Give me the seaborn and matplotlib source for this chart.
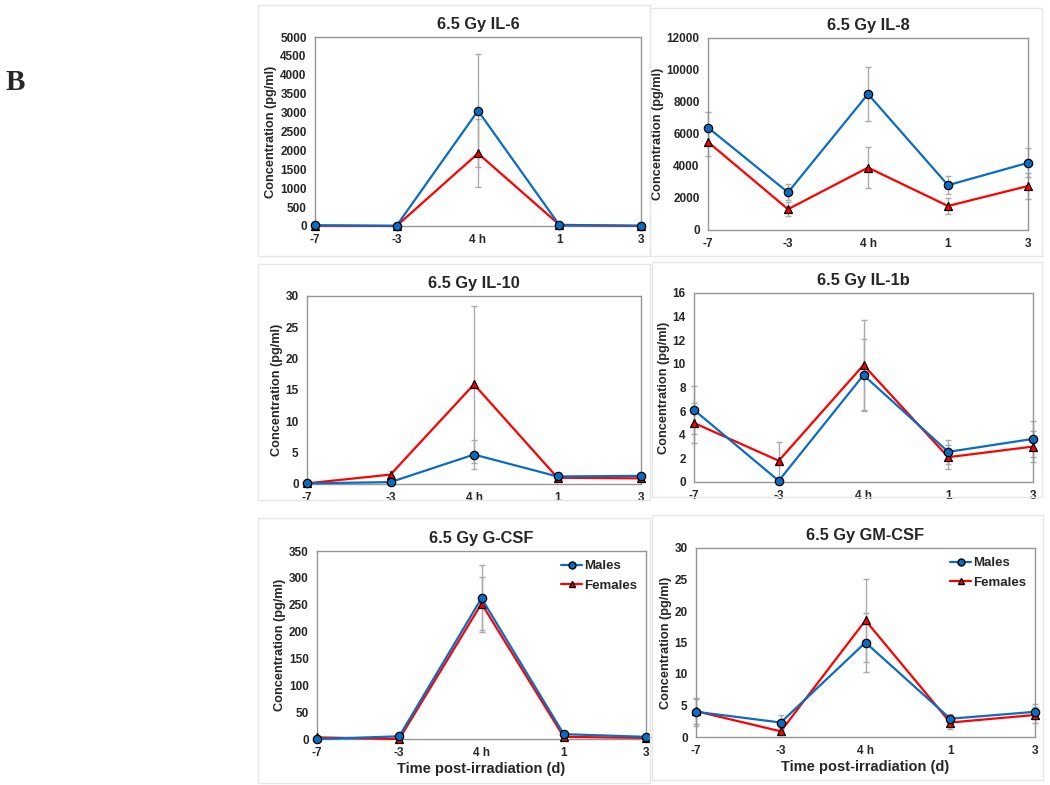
import pandas as pd
import numpy as np
import matplotlib
matplotlib.use('Agg')
import matplotlib.pyplot as plt
from matplotlib.lines import Line2D
from matplotlib.patches import Rectangle
import seaborn as sns

sns.set_style("white")
plt.rcParams['font.family'] = ['Liberation Sans', 'DejaVu Sans']
plt.rcParams['font.weight'] = 'bold'

# ---- data ----
time_labels = ['-7', '-3', '4 h', '1', '3']

il6_m = [20, 5, 3050, 20, 5]
il6_f = [10, 0, 1920, 30, 5]
il6_m_sd = [30, 10, 1500, 30, 10]
il6_f_sd = [20, 5, 900, 40, 10]

il8_m = [6400, 2350, 8500, 2800, 4200]
il8_f = [5500, 1300, 3900, 1500, 2750]
il8_m_sd = [1000, 500, 1700, 550, 900]
il8_f_sd = [900, 450, 1300, 500, 800]

il10_m = [0.1, 0.3, 4.7, 1.2, 1.3]
il10_f = [0.1, 1.5, 15.9, 1.0, 0.9]
il10_m_sd = [0.1, 0.2, 2.3, 0.3, 0.3]
il10_f_sd = [0.1, 0.5, 12.5, 0.2, 0.2]

il1b_m = [6.1, 0.1, 9.05, 2.55, 3.65]
il1b_f = [5.0, 1.8, 9.9, 2.1, 3.0]
il1b_m_sd = [2.0, 0.3, 3.05, 1.0, 1.5]
il1b_f_sd = [1.7, 1.6, 3.8, 1.0, 1.3]

gcsf_m = [0, 5, 262, 9, 4]
gcsf_f = [3, 0, 252, 4, 2]
gcsf_m_sd = [1, 3, 62, 4, 2]
gcsf_f_sd = [2, 1, 50, 3, 1]

gmcsf_m = [4.0, 2.3, 15.0, 2.9, 4.0]
gmcsf_f = [4.1, 0.9, 18.5, 2.3, 3.5]
gmcsf_m_sd = [2.2, 1.2, 4.7, 0.7, 1.2]
gmcsf_f_sd = [2.0, 0.6, 6.6, 1.0, 1.3]

# name, males, females, sd males, sd females, ymax, ystep
panels = [
    ('6.5 Gy IL-6', il6_m, il6_f, il6_m_sd, il6_f_sd, 5000, 500),
    ('6.5 Gy IL-8', il8_m, il8_f, il8_m_sd, il8_f_sd, 12000, 2000),
    ('6.5 Gy IL-10', il10_m, il10_f, il10_m_sd, il10_f_sd, 30, 5),
    ('6.5 Gy IL-1b', il1b_m, il1b_f, il1b_m_sd, il1b_f_sd, 16, 2),
    ('6.5 Gy G-CSF', gcsf_m, gcsf_f, gcsf_m_sd, gcsf_f_sd, 350, 50),
    ('6.5 Gy GM-CSF', gmcsf_m, gmcsf_f, gmcsf_m_sd, gmcsf_f_sd, 30, 5),
]

# axes boxes in pixels: left, right, top, bottom
W, H = 1050, 785
boxes = [(315, 641, 37, 226), (708, 1028, 38, 230),
         (307, 641, 296, 484), (694, 1033, 293, 482),
         (317, 646, 551, 739), (696, 1035, 548, 737)]
# light frames around each panel
frames = [(258, 650, 5, 256), (650, 1042, 8, 256),
          (258, 650, 264, 500), (652, 1042, 262, 497),
          (258, 650, 518, 783), (652, 1043, 515, 780)]

blue = '#0A6CC2'
red = '#FF0000'
grid_c = '#959595'

fig = plt.figure(figsize=(W / 100, H / 100), dpi=100)

for (fl, fr, ft, fb) in frames:
    fig.patches.append(Rectangle((fl / W, 1 - fb / H), (fr - fl) / W, (fb - ft) / H,
                                 transform=fig.transFigure, fill=False,
                                 edgecolor='#E6E6E6', lw=1.0, zorder=0))

fig.text(15 / W, 1 - 83 / H, 'B', family=['Liberation Serif', 'DejaVu Serif'],
         fontsize=21, fontweight='bold', va='center', ha='center')

for i, ((title, m, f, msd, fsd, ymax, ystep), (l, r, t, b)) in enumerate(zip(panels, boxes)):
    ax = fig.add_axes([l / W, 1 - b / H, (r - l) / W, (b - t) / H])
    x = np.arange(len(time_labels))
    df = pd.DataFrame({
        'pos': np.concatenate([x, x]),
        'value': m + f,
        'sex': ['Males'] * len(x) + ['Females'] * len(x),
    })
    ax.errorbar(x, m, yerr=msd, fmt='none', ecolor='#ABABAB', elinewidth=1,
                capsize=2, capthick=1, zorder=1, clip_on=False)
    ax.errorbar(x, f, yerr=fsd, fmt='none', ecolor='#ABABAB', elinewidth=1,
                capsize=2, capthick=1, zorder=1, clip_on=False)
    sns.lineplot(data=df, x='pos', y='value', hue='sex', style='sex',
                 hue_order=['Females', 'Males'],
                 palette={'Males': blue, 'Females': red},
                 markers={'Males': 'o', 'Females': '^'}, dashes=False,
                 markersize=6, markeredgecolor='black', markeredgewidth=0.9,
                 linewidth=1.6, legend=False, ax=ax, zorder=3, clip_on=False)
    ax.set_xlim(0, 4)
    ax.set_ylim(0, ymax)
    ax.set_yticks(np.arange(0, ymax + ystep / 2, ystep))
    ax.set_xticks(x)
    ax.set_xticklabels(time_labels)
    for s in ax.spines.values():
        s.set_color(grid_c)
        s.set_linewidth(1.0)
    ax.tick_params(axis='both', direction='out', length=4, width=1, color=grid_c,
                   labelsize=8.5, pad=2)
    for lab in ax.get_xticklabels() + ax.get_yticklabels():
        lab.set_fontweight('bold')
    ax.set_title(title, fontsize=11.8, fontweight='bold', pad=6)
    ax.set_ylabel('Concentration (pg/ml)', fontsize=9.2, fontweight='bold', labelpad=2)
    if i >= 4:
        ax.set_xlabel('Time post-irradiation (d)', fontsize=10.5, fontweight='bold', labelpad=2)
        handles = [Line2D([0], [0], color=blue, lw=1.6, marker='o', markersize=5,
                          markeredgecolor='black', label='Males'),
                   Line2D([0], [0], color=red, lw=1.6, marker='^', markersize=5,
                          markeredgecolor='black', label='Females')]
        ax.legend(handles=handles, loc='upper right', frameon=False,
                  prop={'weight': 'bold', 'size': 9.5}, handlelength=1.6,
                  handletextpad=0.1, labelspacing=0.55, borderaxespad=0.3)
    else:
        ax.set_xlabel('')

fig.savefig('out.png', dpi=100)
